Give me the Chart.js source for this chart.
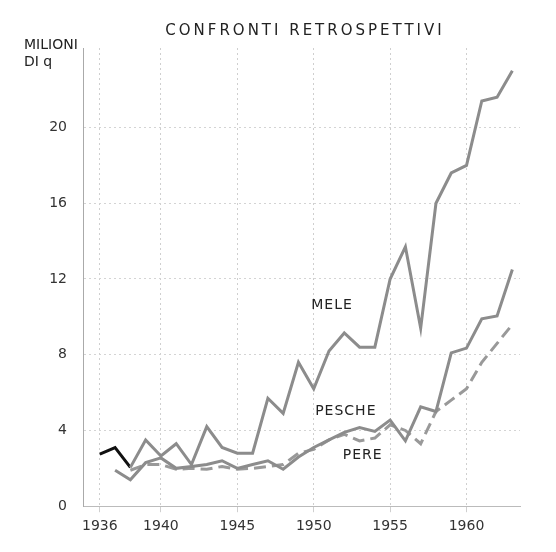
<!DOCTYPE html>
<html>
<head>
<meta charset="utf-8">
<script src="https://cdn.jsdelivr.net/npm/chart.js@4.4.1/dist/chart.umd.min.js"></script>
<style>
  html, body { margin: 0; padding: 0; background: #fff; }
  #wrap { width: 556px; height: 552px; }
</style>
</head>
<body>
<div id="wrap"><canvas id="chart" width="556" height="552"></canvas></div>
<script>
// years 1936 - 1963
const years = [1936, 1937, 1938, 1939, 1940, 1941, 1942, 1943, 1944, 1945,
               1946, 1947, 1948, 1949, 1950, 1951, 1952, 1953, 1954, 1955,
               1956, 1957, 1958, 1959, 1960, 1961, 1962, 1963];

// milioni di quintali
const mele   = [2.75, 3.1, 2.05, 3.5, 2.65, 3.3, 2.2, 4.2, 3.1, 2.8,
                2.8, 5.7, 4.9, 7.6, 6.2, 8.2, 9.15, 8.4, 8.4, 12.0,
                13.7, 9.4, 16.0, 17.6, 18.0, 21.4, 21.6, 23.0];
const pesche = [null, 1.9, 1.4, 2.3, 2.55, 2.0, 2.1, 2.2, 2.4, 2.0,
                2.2, 2.4, 1.95, 2.6, 3.1, 3.5, 3.9, 4.15, 3.95, 4.55,
                3.45, 5.25, 5.0, 8.1, 8.35, 9.9, 10.05, 12.5];
const pere   = [null, null, 1.9, 2.2, 2.2, 1.95, 2.0, 1.95, 2.1, 1.95,
                2.0, 2.1, 2.2, 2.8, 3.0, 3.5, 3.8, 3.45, 3.6, 4.3,
                4.0, 3.3, 5.0, 5.6, 6.2, 7.6, 8.6, 9.6];

const xTicks = [1936, 1940, 1945, 1950, 1955, 1960];
const yTicks = [0, 4, 8, 12, 16, 20];

const title = 'CONFRONTI RETROSPETTIVI';
const unitLines = ['MILIONI', 'DI q'];
// series name, label anchor [year, value]
const seriesLabels = [
    ['MELE', 1951.2, 10.6],
    ['PESCHE', 1952.1, 5.0],
    ['PERE', 1953.2, 2.7]
];

const font = '"DejaVu Sans", sans-serif';
const lineGray = '#8c8c8c';

function toPoints(values) {
    return years.map((y, i) => ({ x: y, y: values[i] }));
}

// titles and series names drawn over the chart
const textPlugin = {
    id: 'texts',
    afterDraw(chart) {
        const ctx = chart.ctx;
        const xs = chart.scales.x;
        const ys = chart.scales.y;
        ctx.save();
        ctx.fillStyle = '#222';
        ctx.textBaseline = 'middle';

        ctx.font = '15px ' + font;
        ctx.textAlign = 'center';
        ctx.letterSpacing = '3px';
        ctx.fillText(title, 305, 31);

        ctx.font = '14px ' + font;
        ctx.letterSpacing = '0px';
        ctx.textAlign = 'left';
        ctx.fillText(unitLines[0], 24, 45);
        ctx.fillText(unitLines[1], 24, 62);

        ctx.textAlign = 'center';
        ctx.letterSpacing = '1px';
        seriesLabels.forEach(s => {
            ctx.fillText(s[0], xs.getPixelForValue(s[1]), ys.getPixelForValue(s[2]));
        });
        ctx.restore();
    }
};

new Chart(document.getElementById('chart'), {
    type: 'line',
    data: {
        datasets: [{
            label: 'MELE',
            data: toPoints(mele),
            borderColor: lineGray,
            borderWidth: 3,
            segment: {
                // first stretch of the apple line is printed black
                borderColor: c => c.p0DataIndex < 2 ? '#111' : lineGray
            }
        }, {
            label: 'PESCHE',
            data: toPoints(pesche),
            borderColor: lineGray,
            borderWidth: 3
        }, {
            label: 'PERE',
            data: toPoints(pere),
            borderColor: '#999',
            borderWidth: 3,
            borderDash: [12, 6]
        }]
    },
    options: {
        responsive: false,
        animation: false,
        layout: { padding: { top: 48, right: 36, bottom: 11, left: 0 } },
        elements: {
            point: { radius: 0 },
            line: { tension: 0, borderJoinStyle: 'miter' }
        },
        plugins: {
            legend: { display: false },
            tooltip: { enabled: false }
        },
        scales: {
            x: {
                type: 'linear',
                min: 1934.9,
                max: 1963.5,
                afterBuildTicks: scale => {
                    scale.ticks = xTicks.map(v => ({ value: v }));
                },
                ticks: {
                    color: '#333',
                    font: { family: font, size: 14 },
                    padding: 6,
                    maxRotation: 0,
                    callback: v => String(v)
                },
                grid: {
                    color: '#cfcfcf',
                    lineWidth: 1,
                    tickLength: 6
                },
                border: { color: '#bbb', dash: [2, 3] }
            },
            y: {
                min: 0,
                max: 24.2,
                afterBuildTicks: scale => {
                    scale.ticks = yTicks.map(v => ({ value: v }));
                },
                afterFit: scale => { scale.width = 83; },
                ticks: {
                    color: '#333',
                    font: { family: font, size: 14 },
                    padding: 16
                },
                grid: {
                    color: '#d4d4d4',
                    lineWidth: 1,
                    drawTicks: false
                },
                border: { color: '#aaa', dash: [2, 3] }
            }
        }
    },
    plugins: [textPlugin]
});
</script>
</body>
</html>
